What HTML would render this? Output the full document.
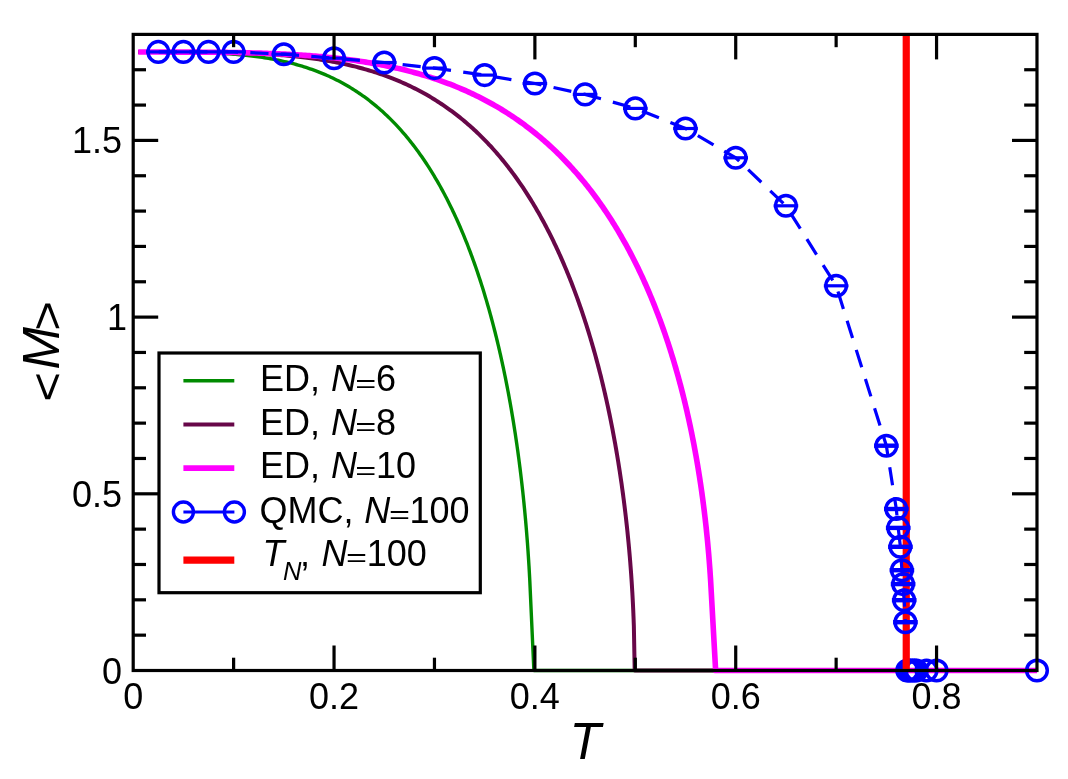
<!DOCTYPE html>
<html><head><meta charset="utf-8"><title>M vs T</title>
<style>html,body{margin:0;padding:0;background:#fff;}body{width:1068px;height:779px;overflow:hidden;}svg{display:block;}</style>
</head><body>
<svg width="1068" height="779" viewBox="0 0 1068 779">
<rect width="1068" height="779" fill="#fff"/>
<path d="M138.22 52.07 L140.29 52.07 L142.36 52.07 L144.43 52.07 L146.49 52.07 L148.56 52.07 L150.63 52.07 L152.7 52.07 L154.77 52.08 L156.83 52.08 L158.9 52.08 L160.97 52.09 L163.04 52.1 L165.11 52.1 L167.17 52.11 L169.24 52.12 L171.31 52.13 L173.38 52.15 L175.45 52.16 L177.51 52.18 L179.58 52.2 L181.65 52.23 L183.72 52.25 L185.79 52.28 L187.86 52.31 L189.92 52.35 L191.99 52.38 L194.06 52.43 L196.13 52.47 L198.2 52.52 L200.26 52.58 L202.33 52.64 L204.4 52.7 L206.47 52.77 L208.54 52.84 L210.6 52.92 L212.67 53 L214.74 53.09 L216.81 53.19 L218.88 53.29 L220.94 53.4 L223.01 53.52 L225.08 53.64 L227.15 53.78 L229.22 53.91 L231.28 54.06 L233.35 54.22 L235.42 54.38 L237.49 54.55 L239.56 54.74 L241.63 54.93 L243.69 55.13 L245.76 55.34 L247.83 55.56 L249.9 55.79 L251.97 56.04 L254.03 56.29 L256.1 56.56 L258.17 56.83 L260.24 57.13 L262.31 57.43 L264.37 57.74 L266.44 58.07 L268.51 58.42 L270.58 58.77 L272.55 59.13 L274.52 59.49 L276.49 59.87 L278.46 60.27 L280.43 60.68 L282.4 61.1 L284.37 61.54 L286.34 61.99 L288.3 62.46 L290.27 62.95 L292.24 63.45 L294.21 63.97 L296.18 64.51 L298.15 65.06 L300.12 65.63 L302.09 66.22 L304.06 66.83 L306.03 67.46 L308 68.11 L309.97 68.78 L311.94 69.46 L313.91 70.17 L315.88 70.9 L317.75 71.62 L319.62 72.35 L321.49 73.1 L323.36 73.88 L325.24 74.67 L327.11 75.49 L328.98 76.32 L330.85 77.19 L332.72 78.07 L334.59 78.97 L336.46 79.9 L338.33 80.86 L340.2 81.84 L341.98 82.79 L343.75 83.76 L345.52 84.75 L347.29 85.77 L349.07 86.82 L350.84 87.88 L352.61 88.97 L354.39 90.09 L356.16 91.23 L357.83 92.34 L359.51 93.47 L361.18 94.62 L362.85 95.79 L364.53 96.99 L366.2 98.22 L367.88 99.47 L369.55 100.75 L371.23 102.06 L372.8 103.31 L374.38 104.59 L375.95 105.89 L377.53 107.21 L379.1 108.57 L380.68 109.95 L382.26 111.35 L383.83 112.78 L385.31 114.15 L386.79 115.54 L388.26 116.96 L389.74 118.4 L391.22 119.87 L392.69 121.37 L394.17 122.89 L395.65 124.43 L397.03 125.9 L398.41 127.4 L399.78 128.91 L401.16 130.45 L402.54 132.02 L403.92 133.62 L405.3 135.23 L406.68 136.88 L407.96 138.43 L409.24 140.01 L410.52 141.61 L411.8 143.23 L413.08 144.88 L414.36 146.56 L415.64 148.26 L416.92 149.98 L418.1 151.6 L419.28 153.24 L420.47 154.9 L421.65 156.58 L422.83 158.29 L424.01 160.02 L425.19 161.78 L426.37 163.56 L427.56 165.37 L428.74 167.2 L429.82 168.91 L430.9 170.63 L431.99 172.38 L433.07 174.15 L434.15 175.94 L435.24 177.76 L436.32 179.6 L437.4 181.47 L438.49 183.36 L439.57 185.27 L440.56 187.04 L441.54 188.82 L442.53 190.63 L443.51 192.46 L444.49 194.31 L445.48 196.18 L446.46 198.08 L447.45 200 L448.43 201.94 L449.42 203.91 L450.4 205.9 L451.29 207.72 L452.18 209.55 L453.06 211.41 L453.95 213.29 L454.84 215.19 L455.72 217.11 L456.61 219.05 L457.49 221.02 L458.38 223 L459.27 225.02 L460.15 227.05 L461.04 229.11 L461.83 230.96 L462.62 232.83 L463.4 234.72 L464.19 236.63 L464.98 238.56 L465.77 240.52 L466.55 242.49 L467.34 244.49 L468.13 246.5 L468.92 248.54 L469.71 250.6 L470.49 252.69 L471.28 254.8 L472.07 256.93 L472.76 258.82 L473.45 260.72 L474.14 262.64 L474.83 264.59 L475.52 266.55 L476.21 268.53 L476.89 270.54 L477.58 272.56 L478.27 274.61 L478.96 276.67 L479.65 278.76 L480.34 280.88 L481.03 283.01 L481.72 285.17 L482.41 287.35 L483.1 289.56 L483.79 291.79 L484.38 293.72 L484.97 295.67 L485.56 297.64 L486.15 299.62 L486.74 301.63 L487.33 303.66 L487.92 305.71 L488.52 307.78 L489.11 309.87 L489.7 311.98 L490.29 314.12 L490.88 316.27 L491.47 318.45 L492.06 320.65 L492.65 322.88 L493.24 325.13 L493.83 327.41 L494.42 329.71 L495.02 332.03 L495.51 333.99 L496 335.97 L496.49 337.97 L496.98 339.99 L497.48 342.02 L497.97 344.08 L498.46 346.16 L498.95 348.25 L499.45 350.37 L499.94 352.52 L500.43 354.68 L500.92 356.87 L501.42 359.08 L501.91 361.31 L502.4 363.57 L502.89 365.86 L503.39 368.17 L503.88 370.5 L504.37 372.86 L504.86 375.25 L505.36 377.67 L505.85 380.12 L506.24 382.1 L506.64 384.1 L507.03 386.12 L507.42 388.16 L507.82 390.22 L508.21 392.3 L508.61 394.41 L509 396.53 L509.39 398.68 L509.79 400.85 L510.18 403.05 L510.58 405.27 L510.97 407.52 L511.36 409.79 L511.76 412.09 L512.15 414.42 L512.54 416.77 L512.94 419.15 L513.33 421.57 L513.73 424.01 L514.12 426.49 L514.51 429 L514.91 431.54 L515.3 434.12 L515.7 436.73 L515.99 438.72 L516.29 440.72 L516.58 442.75 L516.88 444.81 L517.17 446.88 L517.47 448.98 L517.76 451.1 L518.06 453.25 L518.36 455.43 L518.65 457.63 L518.95 459.86 L519.24 462.12 L519.54 464.41 L519.83 466.74 L520.13 469.09 L520.42 471.48 L520.72 473.9 L521.01 476.35 L521.31 478.85 L521.6 481.38 L521.9 483.95 L522.2 486.57 L522.49 489.23 L522.79 491.93 L523.08 494.69 L523.38 497.49 L523.67 500.35 L523.97 503.26 L524.26 506.23 L524.46 508.25 L524.66 510.29 L524.85 512.37 L525.05 514.47 L525.25 516.61 L525.45 518.78 L525.64 520.99 L525.84 523.23 L526.04 525.51 L526.23 527.83 L526.43 530.2 L526.63 532.61 L526.82 535.06 L527.02 537.57 L527.22 540.13 L527.42 542.74 L527.61 545.42 L527.81 548.16 L528.01 550.96 L528.2 553.84 L528.4 556.8 L528.6 559.84 L528.79 562.98 L528.99 566.21 L529.19 569.56 L529.38 573.03 L529.58 576.63 L529.78 580.39 L533.88 670.5 L1036.98 670.5" fill="none" stroke="#008b00" stroke-width="3.4" stroke-linejoin="round"/>
<path d="M138.22 52.07 L140.33 52.07 L142.44 52.07 L144.55 52.07 L146.66 52.07 L148.77 52.07 L150.88 52.07 L152.99 52.07 L155.1 52.07 L157.21 52.07 L159.32 52.07 L161.43 52.07 L163.54 52.08 L165.65 52.08 L167.76 52.08 L169.87 52.08 L171.98 52.09 L174.09 52.09 L176.2 52.1 L178.31 52.1 L180.42 52.11 L182.53 52.12 L184.64 52.12 L186.75 52.13 L188.86 52.14 L190.97 52.15 L193.08 52.17 L195.19 52.18 L197.3 52.2 L199.42 52.21 L201.53 52.23 L203.64 52.25 L205.75 52.27 L207.86 52.3 L209.97 52.32 L212.08 52.35 L214.19 52.38 L216.3 52.41 L218.41 52.45 L220.52 52.49 L222.63 52.53 L224.74 52.57 L226.85 52.61 L228.96 52.66 L231.07 52.71 L233.18 52.77 L235.29 52.82 L237.4 52.88 L239.51 52.95 L241.62 53.02 L243.73 53.09 L245.84 53.17 L247.95 53.25 L250.06 53.33 L252.17 53.42 L254.28 53.51 L256.39 53.61 L258.5 53.71 L260.61 53.82 L262.72 53.93 L264.83 54.05 L266.94 54.17 L269.05 54.3 L271.16 54.44 L273.27 54.58 L275.38 54.72 L277.49 54.88 L279.6 55.04 L281.71 55.2 L283.82 55.38 L285.93 55.55 L288.04 55.74 L290.15 55.94 L292.26 56.14 L294.37 56.35 L296.48 56.56 L298.59 56.79 L300.7 57.02 L302.81 57.26 L304.92 57.51 L306.91 57.76 L308.89 58.01 L310.88 58.27 L312.87 58.54 L314.85 58.81 L316.84 59.1 L318.82 59.39 L320.81 59.7 L322.8 60.01 L324.78 60.33 L326.77 60.66 L328.75 61 L330.74 61.36 L332.73 61.72 L334.71 62.09 L336.7 62.47 L338.68 62.87 L340.67 63.27 L342.66 63.69 L344.64 64.11 L346.63 64.55 L348.61 65 L350.6 65.46 L352.59 65.94 L354.57 66.43 L356.56 66.93 L358.54 67.44 L360.53 67.97 L362.52 68.51 L364.5 69.06 L366.49 69.63 L368.47 70.21 L370.46 70.81 L372.45 71.42 L374.43 72.04 L376.42 72.68 L378.4 73.34 L380.39 74.01 L382.38 74.7 L384.36 75.4 L386.35 76.12 L388.33 76.86 L390.32 77.62 L392.31 78.39 L394.17 79.13 L396.03 79.89 L397.89 80.66 L399.75 81.45 L401.62 82.25 L403.48 83.07 L405.34 83.91 L407.2 84.77 L409.06 85.64 L410.93 86.53 L412.79 87.44 L414.65 88.37 L416.51 89.32 L418.37 90.28 L420.24 91.27 L422.1 92.27 L423.96 93.3 L425.82 94.34 L427.56 95.34 L429.3 96.35 L431.03 97.38 L432.77 98.43 L434.51 99.5 L436.25 100.59 L437.99 101.69 L439.72 102.82 L441.46 103.97 L443.2 105.14 L444.94 106.33 L446.67 107.54 L448.41 108.77 L450.15 110.02 L451.76 111.21 L453.38 112.41 L454.99 113.63 L456.6 114.87 L458.22 116.14 L459.83 117.42 L461.44 118.72 L463.06 120.05 L464.67 121.39 L466.29 122.76 L467.9 124.15 L469.51 125.56 L471.13 127 L472.62 128.34 L474.11 129.71 L475.6 131.09 L477.08 132.5 L478.57 133.92 L480.06 135.37 L481.55 136.84 L483.04 138.33 L484.53 139.84 L486.02 141.37 L487.51 142.93 L489 144.51 L490.37 145.98 L491.73 147.46 L493.1 148.97 L494.46 150.5 L495.83 152.05 L497.19 153.62 L498.56 155.21 L499.92 156.82 L501.29 158.46 L502.65 160.11 L504.02 161.79 L505.39 163.49 L506.75 165.22 L507.99 166.81 L509.23 168.41 L510.47 170.04 L511.72 171.69 L512.96 173.36 L514.2 175.05 L515.44 176.76 L516.68 178.49 L517.92 180.24 L519.16 182.02 L520.4 183.82 L521.65 185.64 L522.89 187.48 L524 189.16 L525.12 190.86 L526.24 192.58 L527.36 194.32 L528.47 196.07 L529.59 197.85 L530.71 199.65 L531.82 201.47 L532.94 203.31 L534.06 205.17 L535.18 207.05 L536.29 208.96 L537.41 210.89 L538.53 212.84 L539.52 214.6 L540.51 216.37 L541.51 218.16 L542.5 219.97 L543.49 221.8 L544.49 223.65 L545.48 225.52 L546.47 227.41 L547.46 229.32 L548.46 231.25 L549.45 233.21 L550.44 235.18 L551.44 237.18 L552.43 239.2 L553.42 241.24 L554.29 243.04 L555.16 244.86 L556.03 246.71 L556.9 248.56 L557.77 250.44 L558.64 252.34 L559.5 254.26 L560.37 256.19 L561.24 258.15 L562.11 260.12 L562.98 262.12 L563.85 264.14 L564.72 266.18 L565.59 268.24 L566.46 270.32 L567.32 272.42 L568.19 274.55 L569.06 276.7 L569.81 278.56 L570.55 280.44 L571.3 282.34 L572.04 284.25 L572.79 286.18 L573.53 288.14 L574.28 290.11 L575.02 292.1 L575.76 294.11 L576.51 296.14 L577.25 298.19 L578 300.26 L578.74 302.35 L579.49 304.46 L580.23 306.6 L580.98 308.75 L581.72 310.93 L582.47 313.13 L583.21 315.36 L583.96 317.61 L584.7 319.88 L585.32 321.8 L585.94 323.73 L586.56 325.68 L587.18 327.65 L587.81 329.64 L588.43 331.64 L589.05 333.67 L589.67 335.71 L590.29 337.77 L590.91 339.86 L591.53 341.96 L592.15 344.09 L592.77 346.24 L593.39 348.41 L594.01 350.6 L594.63 352.82 L595.25 355.06 L595.87 357.32 L596.49 359.61 L597.11 361.92 L597.74 364.26 L598.36 366.62 L598.98 369.01 L599.6 371.43 L600.09 373.38 L600.59 375.36 L601.09 377.35 L601.58 379.36 L602.08 381.39 L602.58 383.44 L603.07 385.51 L603.57 387.6 L604.07 389.72 L604.56 391.85 L605.06 394.01 L605.56 396.19 L606.05 398.39 L606.55 400.62 L607.04 402.87 L607.54 405.15 L608.04 407.45 L608.53 409.78 L609.03 412.13 L609.53 414.52 L610.02 416.93 L610.52 419.37 L611.02 421.84 L611.51 424.35 L612.01 426.88 L612.51 429.45 L613 432.05 L613.38 434.03 L613.75 436.02 L614.12 438.04 L614.49 440.08 L614.86 442.14 L615.24 444.22 L615.61 446.33 L615.98 448.46 L616.35 450.61 L616.73 452.79 L617.1 455 L617.47 457.23 L617.84 459.49 L618.22 461.78 L618.59 464.1 L618.96 466.45 L619.33 468.83 L619.71 471.24 L620.08 473.68 L620.45 476.17 L620.82 478.68 L621.19 481.24 L621.57 483.83 L621.94 486.47 L622.31 489.15 L622.68 491.87 L623.06 494.64 L623.43 497.46 L623.8 500.33 L624.17 503.25 L624.55 506.23 L624.79 508.25 L625.04 510.3 L625.29 512.37 L625.54 514.48 L625.79 516.62 L626.04 518.78 L626.28 520.98 L626.53 523.22 L626.78 525.49 L627.03 527.8 L627.28 530.16 L627.53 532.55 L627.77 534.99 L628.02 537.47 L628.27 540 L628.52 542.59 L628.77 545.23 L629.01 547.93 L629.26 550.69 L629.51 553.51 L629.76 556.41 L630.01 559.39 L630.26 562.45 L630.5 565.6 L630.75 568.85 L631 572.21 L631.25 575.68 L631.5 579.29 L631.75 583.05 L631.99 586.98 L632.12 589.01 L632.24 591.1 L632.37 593.24 L632.49 595.44 L632.61 597.71 L632.74 600.05 L632.86 602.47 L632.99 604.97 L633.11 607.58 L633.24 610.29 L633.36 613.13 L633.48 616.12 L633.61 619.27 L633.73 622.63 L633.86 626.23 L634.7 670.5 L1036.98 670.5" fill="none" stroke="#670748" stroke-width="4" stroke-linejoin="round"/>
<path d="M138.22 52.07 L140.23 52.07 L142.25 52.07 L144.26 52.07 L146.27 52.07 L148.29 52.07 L150.3 52.07 L152.31 52.07 L154.33 52.07 L156.34 52.07 L158.35 52.07 L160.36 52.07 L162.38 52.07 L164.39 52.07 L166.4 52.08 L168.42 52.08 L170.43 52.08 L172.44 52.08 L174.46 52.08 L176.47 52.09 L178.48 52.09 L180.5 52.1 L182.51 52.1 L184.52 52.11 L186.53 52.11 L188.55 52.12 L190.56 52.12 L192.57 52.13 L194.59 52.14 L196.6 52.15 L198.61 52.16 L200.63 52.17 L202.64 52.18 L204.65 52.2 L206.67 52.21 L208.68 52.22 L210.69 52.24 L212.7 52.26 L214.72 52.28 L216.73 52.3 L218.74 52.32 L220.76 52.34 L222.77 52.36 L224.78 52.39 L226.8 52.41 L228.81 52.44 L230.82 52.47 L232.83 52.5 L234.85 52.54 L236.86 52.57 L238.87 52.61 L240.89 52.65 L242.9 52.69 L244.91 52.73 L246.93 52.78 L248.94 52.83 L250.95 52.88 L252.97 52.93 L254.98 52.98 L256.99 53.04 L259 53.1 L261.02 53.16 L263.03 53.23 L265.04 53.3 L267.06 53.37 L269.07 53.44 L271.08 53.52 L273.1 53.6 L275.11 53.68 L277.12 53.77 L279.14 53.86 L281.15 53.95 L283.16 54.04 L285.17 54.14 L287.19 54.25 L289.2 54.36 L291.21 54.47 L293.23 54.58 L295.24 54.7 L297.25 54.82 L299.27 54.95 L301.28 55.08 L303.29 55.22 L305.31 55.36 L307.32 55.5 L309.33 55.65 L311.34 55.81 L313.36 55.97 L315.37 56.13 L317.38 56.3 L319.4 56.47 L321.41 56.65 L323.42 56.84 L325.44 57.03 L327.45 57.22 L329.46 57.42 L331.48 57.63 L333.49 57.84 L335.5 58.06 L337.51 58.28 L339.53 58.51 L341.54 58.75 L343.55 58.99 L345.57 59.24 L347.58 59.5 L349.59 59.76 L351.61 60.03 L353.62 60.31 L355.63 60.59 L357.64 60.88 L359.66 61.18 L361.67 61.48 L363.68 61.8 L365.7 62.12 L367.71 62.44 L369.72 62.78 L371.74 63.12 L373.75 63.48 L375.76 63.84 L377.78 64.21 L379.79 64.58 L381.8 64.97 L383.81 65.36 L385.83 65.77 L387.84 66.18 L389.85 66.6 L391.87 67.03 L393.88 67.47 L395.89 67.92 L397.91 68.38 L399.92 68.85 L401.93 69.33 L403.95 69.82 L405.96 70.32 L407.97 70.84 L409.98 71.36 L412 71.89 L414.01 72.43 L416.02 72.99 L418.04 73.56 L420.05 74.13 L422.06 74.72 L424.08 75.32 L426.09 75.94 L428.1 76.56 L430.12 77.2 L432.13 77.85 L434.14 78.51 L436.15 79.19 L438.17 79.88 L440.18 80.58 L442.19 81.3 L444.21 82.03 L446.22 82.77 L448.23 83.53 L450.1 84.24 L451.97 84.97 L453.84 85.71 L455.71 86.47 L457.58 87.23 L459.45 88.01 L461.32 88.81 L463.19 89.61 L465.06 90.43 L466.93 91.27 L468.79 92.12 L470.66 92.98 L472.53 93.86 L474.4 94.75 L476.27 95.66 L478.14 96.58 L480.01 97.51 L481.88 98.47 L483.75 99.44 L485.62 100.42 L487.49 101.42 L489.36 102.44 L491.23 103.47 L493.1 104.52 L494.96 105.59 L496.83 106.67 L498.56 107.69 L500.28 108.72 L502.01 109.76 L503.74 110.83 L505.46 111.9 L507.19 113 L508.91 114.11 L510.64 115.23 L512.36 116.38 L514.09 117.54 L515.81 118.71 L517.54 119.91 L519.27 121.12 L520.99 122.35 L522.72 123.59 L524.44 124.86 L526.17 126.14 L527.89 127.45 L529.62 128.77 L531.2 130 L532.78 131.24 L534.36 132.5 L535.94 133.78 L537.53 135.07 L539.11 136.39 L540.69 137.72 L542.27 139.07 L543.85 140.43 L545.44 141.82 L547.02 143.22 L548.6 144.64 L550.18 146.08 L551.76 147.54 L553.34 149.02 L554.93 150.52 L556.51 152.04 L557.94 153.44 L559.38 154.85 L560.82 156.29 L562.26 157.74 L563.7 159.21 L565.13 160.69 L566.57 162.2 L568.01 163.72 L569.45 165.27 L570.89 166.83 L572.32 168.41 L573.76 170.01 L575.2 171.63 L576.64 173.28 L578.08 174.94 L579.51 176.62 L580.81 178.15 L582.1 179.7 L583.4 181.27 L584.69 182.86 L585.98 184.46 L587.28 186.08 L588.57 187.73 L589.87 189.39 L591.16 191.07 L592.45 192.76 L593.75 194.48 L595.04 196.22 L596.34 197.98 L597.63 199.76 L598.93 201.56 L600.22 203.39 L601.37 205.03 L602.52 206.68 L603.67 208.36 L604.82 210.05 L605.97 211.76 L607.12 213.49 L608.27 215.23 L609.42 217 L610.57 218.78 L611.72 220.59 L612.87 222.42 L614.02 224.26 L615.17 226.13 L616.32 228.01 L617.47 229.92 L618.62 231.85 L619.77 233.81 L620.92 235.78 L621.93 237.53 L622.94 239.29 L623.94 241.07 L624.95 242.88 L625.96 244.69 L626.96 246.53 L627.97 248.39 L628.98 250.27 L629.98 252.16 L630.99 254.08 L632 256.02 L633 257.98 L634.01 259.96 L635.02 261.96 L636.02 263.98 L637.03 266.03 L638.04 268.1 L639.04 270.19 L639.91 272 L640.77 273.83 L641.63 275.68 L642.49 277.54 L643.36 279.43 L644.22 281.33 L645.08 283.25 L645.94 285.2 L646.81 287.16 L647.67 289.14 L648.53 291.15 L649.4 293.17 L650.26 295.22 L651.12 297.29 L651.98 299.38 L652.85 301.49 L653.71 303.63 L654.57 305.79 L655.43 307.97 L656.3 310.18 L657.16 312.41 L657.88 314.3 L658.6 316.2 L659.32 318.12 L660.04 320.05 L660.75 322.01 L661.47 323.99 L662.19 325.98 L662.91 328 L663.63 330.04 L664.35 332.1 L665.07 334.18 L665.79 336.29 L666.51 338.41 L667.23 340.56 L667.94 342.74 L668.66 344.93 L669.38 347.16 L670.1 349.4 L670.82 351.68 L671.54 353.98 L672.26 356.31 L672.98 358.67 L673.7 361.05 L674.27 362.98 L674.85 364.93 L675.42 366.9 L676 368.89 L676.57 370.9 L677.15 372.93 L677.72 374.98 L678.3 377.05 L678.87 379.15 L679.45 381.27 L680.02 383.41 L680.6 385.58 L681.17 387.77 L681.75 389.99 L682.32 392.24 L682.9 394.51 L683.47 396.81 L684.05 399.14 L684.62 401.5 L685.2 403.88 L685.77 406.3 L686.35 408.75 L686.92 411.24 L687.5 413.76 L688.08 416.31 L688.65 418.9 L689.08 420.87 L689.51 422.86 L689.94 424.87 L690.38 426.9 L690.81 428.96 L691.24 431.04 L691.67 433.15 L692.1 435.28 L692.53 437.44 L692.96 439.63 L693.4 441.84 L693.83 444.09 L694.26 446.36 L694.69 448.67 L695.12 451 L695.55 453.38 L695.98 455.78 L696.41 458.22 L696.85 460.7 L697.28 463.22 L697.71 465.77 L698.14 468.37 L698.57 471.02 L699 473.7 L699.43 476.44 L699.87 479.23 L700.3 482.06 L700.73 484.96 L701.16 487.91 L701.45 489.91 L701.74 491.94 L702.02 494 L702.31 496.08 L702.6 498.2 L702.89 500.36 L703.17 502.54 L703.46 504.76 L703.75 507.02 L704.04 509.32 L704.32 511.66 L704.61 514.04 L704.9 516.47 L705.19 518.94 L705.47 521.47 L705.76 524.04 L706.05 526.67 L706.34 529.36 L706.62 532.12 L706.91 534.94 L707.2 537.83 L707.49 540.8 L707.77 543.85 L708.06 546.99 L708.35 550.23 L708.64 553.57 L708.92 557.03 L709.21 560.62 L709.5 564.35 L709.79 568.24 L709.93 570.25 L710.07 572.31 L710.22 574.42 L710.36 576.59 L710.51 578.81 L710.65 581.1 L715.64 670.5 L1036.98 670.5" fill="none" stroke="#ff00ff" stroke-width="5.6" stroke-linejoin="round"/>
<g fill="none" stroke="#0000ff">
<circle cx="907.24" cy="670.5" r="10.3" stroke-width="3.5"/>
<circle cx="908.44" cy="670.5" r="10.3" stroke-width="3.5"/>
<circle cx="910.45" cy="670.5" r="10.3" stroke-width="3.5"/>
<circle cx="912.46" cy="670.5" r="10.3" stroke-width="3.5"/>
<circle cx="914.47" cy="670.5" r="10.3" stroke-width="3.5"/>
<circle cx="916.48" cy="670.5" r="10.3" stroke-width="3.5"/>
<circle cx="926.52" cy="670.5" r="10.3" stroke-width="3.5"/>
<circle cx="936.56" cy="670.5" r="10.3" stroke-width="3.5"/>
<circle cx="1036.98" cy="670.5" r="10.3" stroke-width="3.5"/>
</g>
<line x1="906.25" y1="34.4" x2="906.25" y2="670.5" stroke="#ff0000" stroke-width="7.2"/>
<path d="M158.31 51.9 L183.41 51.9 L208.51 51.9 L233.62 51.9 L283.83 54.2 L334.04 58.2 L384.25 62.5 L434.46 68.1 L484.67 75.1 L534.88 83.5 L585.09 94.4 L635.3 108.4 L685.51 128.5 L735.72 157.8 L785.93 205.8 L836.14 285.8 L886.35 445.7 L896.3 509 L898.2 527.9 L900.4 546.8 L901.9 570.2 L903.1 584.1 L904.2 600.2 L905.4 622.2" fill="none" stroke="#0000ff" stroke-width="3.2" stroke-dasharray="18.2 12.35" stroke-dashoffset="-0.4"/>
<g fill="none" stroke="#0000ff">
<circle cx="158.31" cy="51.9" r="10.3" stroke-width="3.5"/>
<line x1="146" y1="51.9" x2="170.61" y2="51.9" stroke-width="3.2"/>
<circle cx="183.41" cy="51.9" r="10.3" stroke-width="3.5"/>
<line x1="171.11" y1="51.9" x2="195.71" y2="51.9" stroke-width="3.2"/>
<circle cx="208.51" cy="51.9" r="10.3" stroke-width="3.5"/>
<line x1="196.21" y1="51.9" x2="220.81" y2="51.9" stroke-width="3.2"/>
<circle cx="233.62" cy="51.9" r="10.3" stroke-width="3.5"/>
<line x1="221.32" y1="51.9" x2="245.92" y2="51.9" stroke-width="3.2"/>
<circle cx="283.83" cy="54.2" r="10.3" stroke-width="3.5"/>
<line x1="271.53" y1="54.2" x2="296.13" y2="54.2" stroke-width="3.2"/>
<circle cx="334.04" cy="58.2" r="10.3" stroke-width="3.5"/>
<line x1="321.74" y1="58.2" x2="346.34" y2="58.2" stroke-width="3.2"/>
<circle cx="384.25" cy="62.5" r="10.3" stroke-width="3.5"/>
<line x1="371.95" y1="62.5" x2="396.55" y2="62.5" stroke-width="3.2"/>
<circle cx="434.46" cy="68.1" r="10.3" stroke-width="3.5"/>
<line x1="422.16" y1="68.1" x2="446.76" y2="68.1" stroke-width="3.2"/>
<circle cx="484.67" cy="75.1" r="10.3" stroke-width="3.5"/>
<line x1="472.37" y1="75.1" x2="496.97" y2="75.1" stroke-width="3.2"/>
<circle cx="534.88" cy="83.5" r="10.3" stroke-width="3.5"/>
<line x1="522.58" y1="83.5" x2="547.18" y2="83.5" stroke-width="3.2"/>
<circle cx="585.09" cy="94.4" r="10.3" stroke-width="3.5"/>
<line x1="572.79" y1="94.4" x2="597.39" y2="94.4" stroke-width="3.2"/>
<circle cx="635.3" cy="108.4" r="10.3" stroke-width="3.5"/>
<line x1="623" y1="108.4" x2="647.6" y2="108.4" stroke-width="3.2"/>
<circle cx="685.51" cy="128.5" r="10.3" stroke-width="3.5"/>
<line x1="673.21" y1="128.5" x2="697.81" y2="128.5" stroke-width="3.2"/>
<circle cx="735.72" cy="157.8" r="10.3" stroke-width="3.5"/>
<line x1="723.42" y1="157.8" x2="748.02" y2="157.8" stroke-width="3.2"/>
<circle cx="785.93" cy="205.8" r="10.3" stroke-width="3.5"/>
<line x1="773.63" y1="205.8" x2="798.23" y2="205.8" stroke-width="3.2"/>
<circle cx="836.14" cy="285.8" r="10.3" stroke-width="3.5"/>
<line x1="823.84" y1="285.8" x2="848.44" y2="285.8" stroke-width="3.2"/>
<circle cx="886.35" cy="445.7" r="10.3" stroke-width="3.5"/>
<line x1="874.05" y1="445.7" x2="898.65" y2="445.7" stroke-width="4.4"/>
<circle cx="896.3" cy="509" r="10.3" stroke-width="3.5"/>
<line x1="884" y1="509" x2="908.6" y2="509" stroke-width="4.4"/>
<circle cx="898.2" cy="527.9" r="10.3" stroke-width="3.5"/>
<line x1="885.9" y1="527.9" x2="910.5" y2="527.9" stroke-width="4.4"/>
<circle cx="900.4" cy="546.8" r="10.3" stroke-width="3.5"/>
<line x1="888.1" y1="546.8" x2="912.7" y2="546.8" stroke-width="4.4"/>
<circle cx="901.9" cy="570.2" r="10.3" stroke-width="3.5"/>
<line x1="889.6" y1="570.2" x2="914.2" y2="570.2" stroke-width="4.4"/>
<circle cx="903.1" cy="584.1" r="10.3" stroke-width="3.5"/>
<line x1="890.8" y1="584.1" x2="915.4" y2="584.1" stroke-width="4.4"/>
<circle cx="904.2" cy="600.2" r="10.3" stroke-width="3.5"/>
<line x1="891.9" y1="600.2" x2="916.5" y2="600.2" stroke-width="4.4"/>
<circle cx="905.4" cy="622.2" r="10.3" stroke-width="3.5"/>
<line x1="893.1" y1="622.2" x2="917.7" y2="622.2" stroke-width="4.4"/>
</g>
<g stroke="#000" stroke-width="3.2" fill="none">
<rect x="133.2" y="34.4" width="903.78" height="636.1" stroke-linejoin="miter"/>
<line x1="233.62" y1="670.5" x2="233.62" y2="657.7"/>
<line x1="233.62" y1="34.4" x2="233.62" y2="47.2"/>
<line x1="334.04" y1="670.5" x2="334.04" y2="645.5"/>
<line x1="334.04" y1="34.4" x2="334.04" y2="59.4"/>
<line x1="434.46" y1="670.5" x2="434.46" y2="657.7"/>
<line x1="434.46" y1="34.4" x2="434.46" y2="47.2"/>
<line x1="534.88" y1="670.5" x2="534.88" y2="645.5"/>
<line x1="534.88" y1="34.4" x2="534.88" y2="59.4"/>
<line x1="635.3" y1="670.5" x2="635.3" y2="657.7"/>
<line x1="635.3" y1="34.4" x2="635.3" y2="47.2"/>
<line x1="735.72" y1="670.5" x2="735.72" y2="645.5"/>
<line x1="735.72" y1="34.4" x2="735.72" y2="59.4"/>
<line x1="836.14" y1="670.5" x2="836.14" y2="657.7"/>
<line x1="836.14" y1="34.4" x2="836.14" y2="47.2"/>
<line x1="936.56" y1="670.5" x2="936.56" y2="645.5"/>
<line x1="936.56" y1="34.4" x2="936.56" y2="59.4"/>
<line x1="133.2" y1="635.16" x2="146" y2="635.16"/>
<line x1="1036.98" y1="635.16" x2="1024.18" y2="635.16"/>
<line x1="133.2" y1="599.82" x2="146" y2="599.82"/>
<line x1="1036.98" y1="599.82" x2="1024.18" y2="599.82"/>
<line x1="133.2" y1="564.48" x2="146" y2="564.48"/>
<line x1="1036.98" y1="564.48" x2="1024.18" y2="564.48"/>
<line x1="133.2" y1="529.14" x2="146" y2="529.14"/>
<line x1="1036.98" y1="529.14" x2="1024.18" y2="529.14"/>
<line x1="133.2" y1="493.81" x2="158.2" y2="493.81"/>
<line x1="1036.98" y1="493.81" x2="1011.98" y2="493.81"/>
<line x1="133.2" y1="458.47" x2="146" y2="458.47"/>
<line x1="1036.98" y1="458.47" x2="1024.18" y2="458.47"/>
<line x1="133.2" y1="423.13" x2="146" y2="423.13"/>
<line x1="1036.98" y1="423.13" x2="1024.18" y2="423.13"/>
<line x1="133.2" y1="387.79" x2="146" y2="387.79"/>
<line x1="1036.98" y1="387.79" x2="1024.18" y2="387.79"/>
<line x1="133.2" y1="352.45" x2="146" y2="352.45"/>
<line x1="1036.98" y1="352.45" x2="1024.18" y2="352.45"/>
<line x1="133.2" y1="317.11" x2="158.2" y2="317.11"/>
<line x1="1036.98" y1="317.11" x2="1011.98" y2="317.11"/>
<line x1="133.2" y1="281.77" x2="146" y2="281.77"/>
<line x1="1036.98" y1="281.77" x2="1024.18" y2="281.77"/>
<line x1="133.2" y1="246.43" x2="146" y2="246.43"/>
<line x1="1036.98" y1="246.43" x2="1024.18" y2="246.43"/>
<line x1="133.2" y1="211.09" x2="146" y2="211.09"/>
<line x1="1036.98" y1="211.09" x2="1024.18" y2="211.09"/>
<line x1="133.2" y1="175.75" x2="146" y2="175.75"/>
<line x1="1036.98" y1="175.75" x2="1024.18" y2="175.75"/>
<line x1="133.2" y1="140.41" x2="158.2" y2="140.41"/>
<line x1="1036.98" y1="140.41" x2="1011.98" y2="140.41"/>
<line x1="133.2" y1="105.08" x2="146" y2="105.08"/>
<line x1="1036.98" y1="105.08" x2="1024.18" y2="105.08"/>
<line x1="133.2" y1="69.74" x2="146" y2="69.74"/>
<line x1="1036.98" y1="69.74" x2="1024.18" y2="69.74"/>
</g>
<g font-family="Liberation Sans, Arial, Helvetica, sans-serif" font-size="36" fill="#000">
<text x="133.2" y="709" text-anchor="middle">0</text>
<text x="334.04" y="709" text-anchor="middle">0.2</text>
<text x="534.88" y="709" text-anchor="middle">0.4</text>
<text x="735.72" y="709" text-anchor="middle">0.6</text>
<text x="936.56" y="709" text-anchor="middle">0.8</text>
<text x="122" y="683.5" text-anchor="end">0</text>
<text x="122" y="506.81" text-anchor="end">0.5</text>
<text x="127" y="330.11" text-anchor="end">1</text>
<text x="122" y="153.41" text-anchor="end">1.5</text>
</g>
<text x="585" y="759" text-anchor="middle" font-family="Liberation Sans, Arial, sans-serif" font-size="51" font-style="italic">T</text>
<g transform="translate(59.2 351.5) rotate(-90)" font-family="Liberation Sans, Arial, sans-serif" font-size="51">
<text transform="translate(-50.3 3.7) scale(1 0.925)">&lt;</text>
<text x="-18" y="0" font-style="italic">M</text>
<text transform="translate(20.8 3.7) scale(1 0.925)">&gt;</text>
</g>
<g>
<rect x="159" y="353" width="321.3" height="239.7" fill="#fff" stroke="#000" stroke-width="3.2"/>
<line x1="183.4" y1="380.8" x2="234.3" y2="380.8" stroke="#008b00" stroke-width="3.4"/>
<line x1="183.4" y1="424.4" x2="234.3" y2="424.4" stroke="#670748" stroke-width="4"/>
<line x1="183.4" y1="468.1" x2="234.3" y2="468.1" stroke="#ff00ff" stroke-width="5.6"/>
<line x1="183.4" y1="512" x2="234.4" y2="512" stroke="#0000ff" stroke-width="3.2"/>
<circle cx="183.4" cy="512" r="10" fill="none" stroke="#0000ff" stroke-width="3.4"/>
<circle cx="234.4" cy="512" r="10" fill="none" stroke="#0000ff" stroke-width="3.4"/>
<line x1="183.4" y1="560.2" x2="234.3" y2="560.2" stroke="#ff0000" stroke-width="7.2"/>
<g font-family="Liberation Sans, Arial, sans-serif" font-size="36" fill="#000">
<text x="259.95" y="391.2">ED,</text>
<text x="331.1" y="391.2" font-style="italic">N</text>
<text transform="translate(355.2 391.5) scale(1 0.72)">=</text>
<text x="376" y="391.2">6</text>
<text x="259.95" y="434.8">ED,</text>
<text x="331.1" y="434.8" font-style="italic">N</text>
<text transform="translate(355.2 435.1) scale(1 0.72)">=</text>
<text x="376" y="434.8">8</text>
<text x="259.95" y="478.4">ED,</text>
<text x="331.1" y="478.4" font-style="italic">N</text>
<text transform="translate(355.2 478.7) scale(1 0.72)">=</text>
<text x="376" y="478.4">10</text>
<text x="259.5" y="522.7">QMC,</text>
<text x="364.3" y="522.7" font-style="italic">N</text>
<text transform="translate(389.1 523.0) scale(1 0.72)">=</text>
<text x="409.5" y="522.7">100</text>
<text x="262.4" y="566" font-style="italic">T</text>
<text x="283.1" y="580.4" font-size="25.5" font-style="italic">N</text>
<text x="299.9" y="566">,</text>
<text x="321.5" y="566" font-style="italic">N</text>
<text transform="translate(346.0 566.3) scale(1 0.72)">=</text>
<text x="366.7" y="566">100</text>
</g></g>
</svg>
</body></html>
